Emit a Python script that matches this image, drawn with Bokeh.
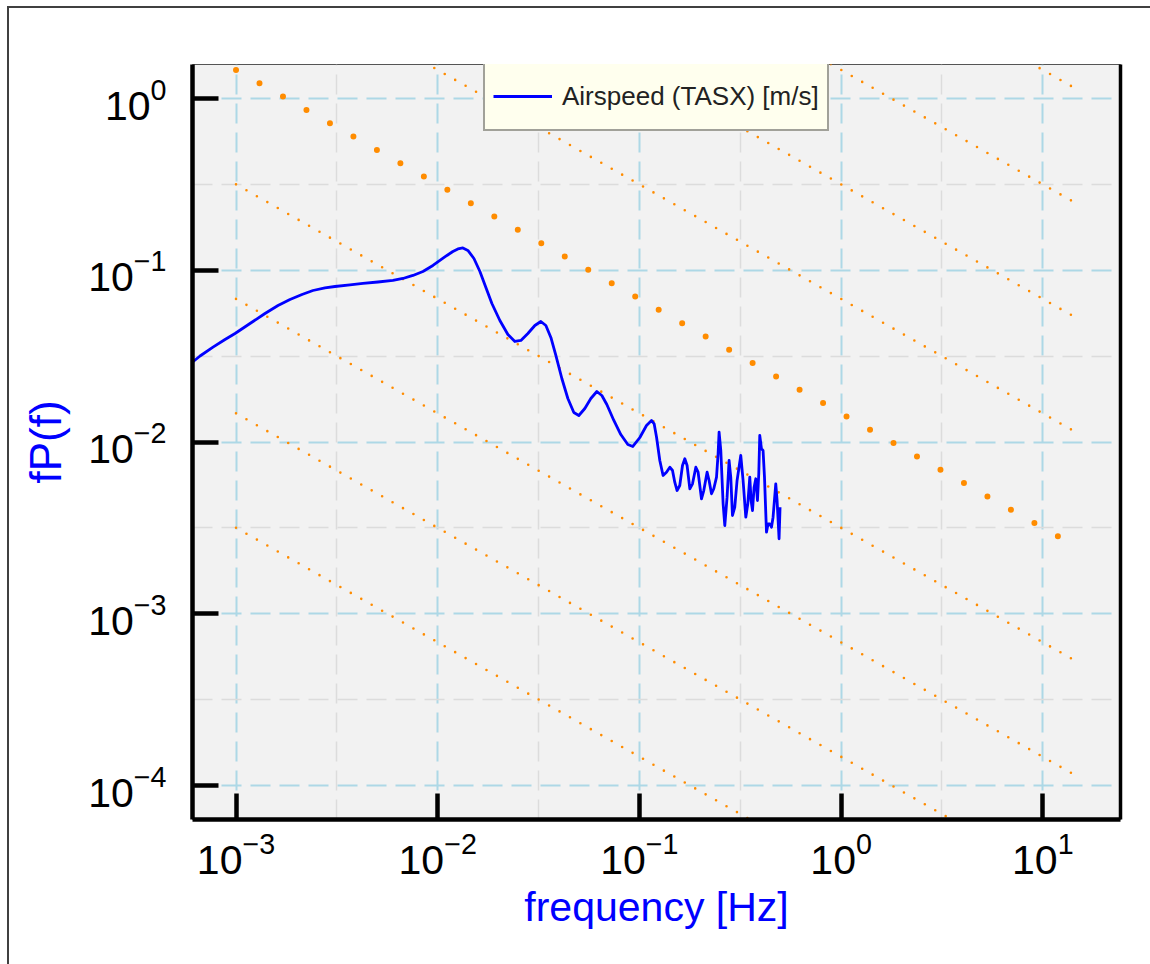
from bokeh.plotting import figure
from bokeh.models import (FixedTicker, Grid, LogAxis, Legend, LegendItem,
                          CustomJSTickFormatter, Range1d)
from bokeh.embed import file_html
from bokeh.resources import INLINE

# ---------------- data ----------------
freq = [6.053e-4, 6.632e-4, 7.69e-4, 8.82e-4, 9.89e-4, 1.173e-3, 1.392e-3, 1.615e-3,
        1.852e-3, 2.124e-3, 2.407e-3, 2.761e-3, 3.095e-3, 3.672e-3, 4.259e-3, 5.053e-3,
        5.998e-3, 6.722e-3, 7.535e-3, 8.446e-3, 9.467e-3, 1.0254e-2, 1.111e-2, 1.189e-2,
        1.259e-2, 1.333e-2, 1.411e-2, 1.512e-2, 1.619e-2, 1.733e-2, 1.856e-2, 2.033e-2,
        2.228e-2, 2.413e-2, 2.584e-2, 2.799e-2, 3.031e-2, 3.246e-2, 3.437e-2, 3.639e-2,
        3.852e-2, 4.125e-2, 4.418e-2, 4.73e-2, 5.007e-2, 5.362e-2, 5.743e-2, 6.151e-2,
        6.512e-2, 6.894e-2, 7.468e-2, 8.086e-2, 8.759e-2, 9.275e-2, 0.1005, 0.1084,
        0.1148, 0.1183, 0.1216, 0.1262, 0.1310, 0.1362, 0.1415, 0.1459, 0.1497, 0.1537,
        0.1585, 0.1635, 0.1679, 0.1723, 0.1778, 0.1833, 0.1904, 0.1954, 0.2031, 0.2085,
        0.2165, 0.2215, 0.2277, 0.2337, 0.2411, 0.2455, 0.2483, 0.2532, 0.2600, 0.2650,
        0.2720, 0.2783, 0.2837, 0.2893, 0.2970, 0.3049, 0.3180, 0.3265, 0.3368, 0.3446,
        0.3525, 0.3578, 0.3636, 0.3703, 0.3775, 0.3848, 0.3906, 0.3950, 0.4028, 0.4102,
        0.4169, 0.4265, 0.4344, 0.4429, 0.4515, 0.4598, 0.4742, 0.4814, 0.4924, 0.4980]
fpf = [0.02908, 0.03172, 0.03571, 0.03959, 0.0429, 0.04906, 0.0561, 0.06246,
       0.06768, 0.07236, 0.07635, 0.07896, 0.08056, 0.08222, 0.08388, 0.08558,
       0.08733, 0.0897, 0.0934, 0.09854, 0.1068, 0.1142, 0.1221, 0.1288,
       0.1332, 0.135, 0.1306, 0.1173, 0.09854, 0.07949, 0.06415, 0.05107,
       0.04233, 0.03854, 0.03906, 0.0429, 0.04776, 0.05039, 0.04776, 0.04067,
       0.03194, 0.02346, 0.01794, 0.01487, 0.01429, 0.01569, 0.01794, 0.01971,
       0.01868, 0.01656, 0.01336, 0.01107, 0.009683, 0.009428, 0.010636, 0.01249,
       0.01336, 0.01278, 0.01068, 0.007815, 0.006389, 0.006678, 0.00714, 0.006832,
       0.00584, 0.005224, 0.005588, 0.007305, 0.007993, 0.007305, 0.005346, 0.005717,
       0.00714, 0.006678, 0.004676, 0.005224, 0.006678, 0.005975, 0.0050, 0.005346,
       0.006246, 0.008549, 0.01142, 0.008937, 0.004371, 0.003267, 0.004777, 0.007815,
       0.006246, 0.003737, 0.004177, 0.005975, 0.008356, 0.005975, 0.003653, 0.004371,
       0.006246, 0.00457, 0.003995, 0.005462, 0.006113, 0.00457, 0.006536, 0.01092,
       0.009141, 0.008937, 0.006246, 0.002986, 0.003343, 0.003343, 0.003194, 0.003653,
       0.005717, 0.00457, 0.002734, 0.004177]

# -2/3 reference lines: value at the start and end frequency
ref_freq = [0.001, 15.0]
ref_start = [682, 147, 31.7, 6.82, 1.47, 0.317, 0.0682, 0.0147, 0.00317]
ref_end = [1.121, 0.2417, 0.05207, 0.01121, 0.002417, 5.207e-4, 1.121e-4,
           2.417e-5, 5.207e-6]
ref_thick = 4

x_ticks = [1e-3, 1e-2, 1e-1, 1e0, 1e1]
y_ticks = [1e-4, 1e-3, 1e-2, 1e-1, 1e0]
x_half = [3.162e-3, 3.162e-2, 3.162e-1, 3.162]
y_half = [3.162e-4, 3.162e-3, 3.162e-2, 3.162e-1]

series_label = "Airspeed (TASX) [m/s]"
x_title = "frequency [Hz]"
y_title = "fP(f)"

# ---------------- figure ----------------
FONT = "Liberation Sans"
x_lo, x_hi = 6.085e-4, 24.27
y_lo, y_hi = 6.34e-5, 1.581

p = figure(x_axis_type="log", y_axis_type="log",
           x_range=Range1d(x_lo, x_hi), y_range=Range1d(y_lo, y_hi),
           frame_width=928, frame_height=755,
           min_border_left=183, min_border_right=30,
           min_border_top=56, min_border_bottom=145,
           output_backend="svg", toolbar_location=None)
p.margin = (6, 0, 0, 7)
p.styles = {"border-top": "2px solid #404040", "border-left": "2px solid #404040"}

p.background_fill_color = "#f2f2f2"
p.border_fill_color = "white"
p.outline_line_color = "#555555"
p.outline_line_width = 1

for ax, ticks in ((p.xaxis[0], x_ticks), (p.yaxis[0], y_ticks)):
    ax.ticker = FixedTicker(ticks=ticks, minor_ticks=[])
    ax.axis_line_color = "black"
    ax.axis_line_width = 4.5
    ax.major_tick_line_color = "black"
    ax.major_tick_line_width = 4.5
    ax.major_tick_in = 26
    ax.major_tick_out = 0
    ax.minor_tick_line_color = None
    ax.major_label_text_font = FONT
    ax.major_label_text_font_size = "41px"
    ax.major_label_text_color = "black"
    ax.axis_label_text_color = "#0000ff"
    ax.axis_label_text_font = FONT
    ax.axis_label_text_font_style = "normal"

p.xaxis.major_label_standoff = 12
p.yaxis.major_label_standoff = 26
p.xaxis.axis_label = x_title
p.xaxis.axis_label_text_font_size = "41px"
p.xaxis.axis_label_standoff = 7
p.yaxis.axis_label = y_title
p.yaxis.axis_label_text_font_size = "44px"
p.yaxis.axis_label_standoff = 15

empty_fmt = CustomJSTickFormatter(code="return ''")
right = LogAxis(ticker=FixedTicker(ticks=[], minor_ticks=[]), formatter=empty_fmt,
                axis_line_color="black", axis_line_width=3.5,
                major_tick_line_color=None, minor_tick_line_color=None)
p.add_layout(right, "right")

# grids
for g in (p.xgrid[0], p.ygrid[0]):
    g.grid_line_color = "#add8e6"
    g.grid_line_width = 2
    g.grid_line_dash = "20 9"
p.add_layout(Grid(dimension=0, ticker=FixedTicker(ticks=x_half),
                  grid_line_color="#dcdcdc", grid_line_width=1.5, grid_line_dash="20 9"))
p.add_layout(Grid(dimension=1, ticker=FixedTicker(ticks=y_half),
                  grid_line_color="#dcdcdc", grid_line_width=1.5, grid_line_dash="20 9"))

# -2/3 lines
for i, (s, e) in enumerate(zip(ref_start, ref_end)):
    if i == ref_thick:
        p.line(ref_freq, [s, e], line_color="darkorange", line_width=6,
               line_dash="0 27", line_cap="round")
    else:
        p.line(ref_freq, [s, e], line_color="darkorange", line_width=2.6,
               line_dash="0 12", line_cap="round")

# spectrum
spec = p.line(freq, fpf, line_color="#0000ff", line_width=2.8, line_join="round")

legend = Legend(items=[LegendItem(label=series_label, renderers=[spec])],
                location=(291, 688), margin=0, padding=8,
                glyph_width=59, glyph_height=50, label_standoff=10,
                label_text_font=FONT, label_text_font_size="26px",
                label_text_color="#222222",
                background_fill_color="#ffffee", background_fill_alpha=1,
                border_line_color="#444444", border_line_width=2)
p.add_layout(legend)

open("out.html", "w").write(file_html(p, INLINE))
